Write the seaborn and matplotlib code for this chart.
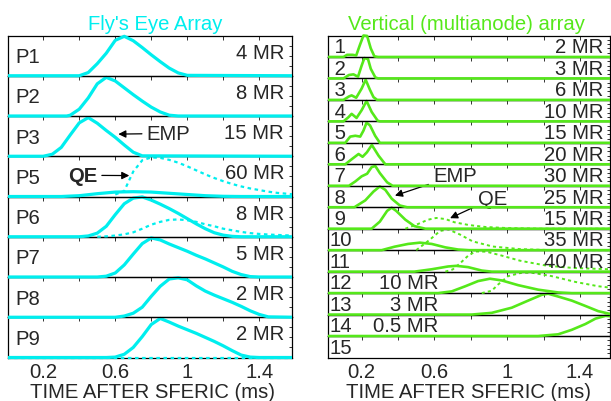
import matplotlib
matplotlib.use("Agg")
import matplotlib.pyplot as plt
import seaborn as sns
from matplotlib.patches import Rectangle

sns.set_style("white")
plt.rcParams["font.family"] = ["Liberation Sans", "DejaVu Sans"]

# ---------------- data: Fly's Eye array (left) ----------------
FE_NAMES = ["P1", "P2", "P3", "P5", "P6", "P7", "P8", "P9"]
FE_MR = ["4 MR", "8 MR", "15 MR", "60 MR", "8 MR", "5 MR", "2 MR", "2 MR"]

P1_X = [0, 0.40, 0.45, 0.50, 0.55, 0.60, 0.65, 0.70, 0.75, 0.80, 0.85, 0.90, 0.95, 1.00, 1.6]
P1_Y = [0, 0, 0.08, 0.30, 0.56, 0.88, 0.98, 0.87, 0.70, 0.52, 0.35, 0.19, 0.07, 0.01, 0]

P2_X = [0, 0.33, 0.35, 0.40, 0.45, 0.50, 0.55, 0.60, 0.65, 0.70, 0.75, 0.80, 0.85, 0.90, 0.95, 1.6]
P2_Y = [0, 0, 0.02, 0.17, 0.45, 0.80, 0.96, 0.87, 0.70, 0.53, 0.37, 0.22, 0.10, 0.02, 0, 0]

P3_X = [0, 0.20, 0.25, 0.30, 0.35, 0.40, 0.45, 0.50, 0.55, 0.60, 0.65, 0.70, 0.75, 1.6]
P3_Y = [0, 0, 0.05, 0.22, 0.53, 0.83, 0.96, 0.82, 0.64, 0.47, 0.28, 0.10, 0.01, 0]

P5_X = [0, 0.30, 0.40, 0.50, 0.60, 0.70, 0.80, 0.90, 1.00, 1.10, 1.20, 1.30, 1.6]
P5_Y = [0, 0, 0.02, 0.07, 0.11, 0.12, 0.11, 0.08, 0.05, 0.02, 0.005, 0, 0]
P5_QE_X = [0.60, 0.65, 0.70, 0.75, 0.80, 0.85, 0.90, 0.95, 1.00, 1.05, 1.10, 1.15, 1.20,
           1.25, 1.30, 1.35, 1.40, 1.45, 1.50, 1.55, 1.60]
P5_QE_Y = [0.05, 0.14, 0.62, 0.90, 0.97, 0.96, 0.91, 0.84, 0.75, 0.65, 0.55, 0.46, 0.38,
           0.31, 0.25, 0.20, 0.16, 0.12, 0.09, 0.07, 0.05]

P6_X = [0, 0.40, 0.45, 0.50, 0.55, 0.60, 0.65, 0.70, 0.75, 0.80, 0.85, 0.90, 0.95, 1.00,
        1.05, 1.10, 1.15, 1.20, 1.25, 1.30, 1.6]
P6_Y = [0, 0, 0.02, 0.09, 0.26, 0.55, 0.82, 0.96, 0.99, 0.91, 0.81, 0.70, 0.58, 0.45,
        0.32, 0.20, 0.10, 0.04, 0.01, 0, 0]
P6_QE_X = [0.50, 0.55, 0.60, 0.65, 0.70, 0.75, 0.80, 0.85, 0.90, 0.95, 1.00, 1.05, 1.10,
           1.15, 1.20, 1.25, 1.30, 1.35, 1.40, 1.45, 1.50, 1.55, 1.60]
P6_QE_Y = [0, 0.01, 0.03, 0.06, 0.11, 0.20, 0.30, 0.37, 0.42, 0.43, 0.41, 0.37, 0.31,
           0.26, 0.20, 0.16, 0.12, 0.09, 0.07, 0.055, 0.045, 0.035, 0.03]

P7_X = [0, 0.50, 0.55, 0.60, 0.65, 0.70, 0.75, 0.80, 0.85, 0.90, 0.95, 1.00, 1.05, 1.10,
        1.15, 1.20, 1.25, 1.30, 1.35, 1.40, 1.6]
P7_Y = [0, 0, 0.02, 0.10, 0.30, 0.57, 0.83, 0.97, 0.92, 0.82, 0.73, 0.64, 0.54, 0.45,
        0.35, 0.25, 0.14, 0.06, 0.01, 0, 0]

P8_X = [0, 0.60, 0.65, 0.70, 0.75, 0.80, 0.85, 0.90, 0.95, 1.00, 1.05, 1.10, 1.15, 1.20,
        1.25, 1.30, 1.35, 1.40, 1.45, 1.6]
P8_Y = [0, 0, 0.03, 0.10, 0.25, 0.52, 0.77, 0.95, 0.98, 0.93, 0.78, 0.65, 0.55, 0.46,
        0.37, 0.27, 0.16, 0.07, 0.01, 0]

P9_X = [0, 0.55, 0.60, 0.65, 0.70, 0.75, 0.80, 0.85, 0.90, 0.95, 1.00, 1.05, 1.10, 1.15,
        1.20, 1.25, 1.30, 1.35, 1.40, 1.6]
P9_Y = [0, 0, 0.01, 0.08, 0.25, 0.52, 0.82, 0.97, 0.88, 0.78, 0.69, 0.60, 0.50, 0.40,
        0.29, 0.17, 0.06, 0.01, 0, 0]
P9_QE_X = [0, 1.6]
P9_QE_Y = [0, 0]

# ---------------- data: Vertical (multianode) array (right) ----------------
VA_NAMES = [" 1", " 2", " 3", " 4", " 5", " 6", " 7", " 8", " 9", "10", "11", "12", "13", "14", "15"]
VA_MR = ["2 MR", "3 MR", "6 MR", "10 MR", "15 MR", "20 MR", "30 MR", "25 MR", "15 MR",
         "35 MR", "40 MR", "10 MR", "3 MR", "0.5 MR", ""]

R1_X = [0, 0.10, 0.12, 0.15, 0.17, 0.19, 0.21, 0.23, 0.25, 0.27, 0.29, 1.6]
R1_Y = [0, 0, 0.10, 0.10, 0.07, 0.55, 1.00, 0.98, 0.40, 0.03, 0, 0]
R2_X = [0, 0.10, 0.13, 0.155, 0.18, 0.20, 0.215, 0.235, 0.25, 0.275, 0.29, 1.6]
R2_Y = [0, 0, 0.16, 0.19, 0.08, 0.60, 0.95, 0.90, 0.45, 0.05, 0, 0]
R3_X = [0, 0.10, 0.13, 0.145, 0.17, 0.20, 0.222, 0.245, 0.265, 0.285, 1.6]
R3_Y = [0, 0, 0.16, 0.21, 0.10, 0.53, 0.94, 0.48, 0.13, 0, 0]
R4_X = [0, 0.10, 0.127, 0.145, 0.172, 0.20, 0.227, 0.255, 0.288, 0.30, 1.6]
R4_Y = [0, 0, 0.19, 0.35, 0.16, 0.52, 0.95, 0.44, 0.03, 0, 0]
R5_X = [0, 0.11, 0.137, 0.165, 0.192, 0.21, 0.227, 0.246, 0.274, 0.30, 1.6]
R5_Y = [0, 0, 0.29, 0.33, 0.29, 0.57, 0.94, 0.81, 0.33, 0, 0]
R6_X = [0, 0.11, 0.146, 0.183, 0.205, 0.229, 0.256, 0.293, 0.33, 1.6]
R6_Y = [0, 0, 0.24, 0.48, 0.35, 0.56, 0.90, 0.40, 0, 0]
R7_X = [0, 0.13, 0.165, 0.20, 0.23, 0.255, 0.275, 0.30, 0.34, 0.37, 1.6]
R7_Y = [0, 0, 0.20, 0.44, 0.56, 0.87, 0.92, 0.59, 0.16, 0, 0]
R8_X = [0, 0.16, 0.22, 0.265, 0.30, 0.33, 0.365, 0.41, 0.45, 1.6]
R8_Y = [0, 0, 0.32, 0.73, 0.97, 0.81, 0.40, 0.08, 0, 0]
R9_X = [0, 0.255, 0.30, 0.34, 0.365, 0.39, 0.44, 0.49, 0.55, 1.6]
R9_Y = [0, 0, 0.33, 0.83, 0.98, 0.83, 0.42, 0.12, 0, 0]
R9_QE_X = [0.44, 0.51, 0.565, 0.61, 0.66, 0.71, 0.79, 0.88, 1.00, 1.19, 1.6]
R9_QE_Y = [0, 0.22, 0.42, 0.50, 0.45, 0.30, 0.17, 0.08, 0.03, 0, 0]
R10_X = [0, 0.31, 0.38, 0.455, 0.52, 0.585, 0.66, 0.73, 0.79, 1.6]
R10_Y = [0, 0, 0.16, 0.29, 0.35, 0.29, 0.13, 0.03, 0, 0]
R10_QE_X = [0.50, 0.575, 0.63, 0.675, 0.74, 0.81, 0.92, 1.07, 1.25, 1.6]
R10_QE_Y = [0, 0.49, 0.89, 0.97, 0.73, 0.41, 0.17, 0.05, 0, 0]
R11_X = [0, 0.49, 0.585, 0.675, 0.72, 0.785, 0.86, 0.915, 1.6]
R11_Y = [0, 0, 0.11, 0.24, 0.27, 0.21, 0.05, 0, 0]
R11_QE_X = [0.66, 0.70, 0.74, 0.785, 0.825, 0.885, 0.96, 1.07, 1.215, 1.365, 1.53, 1.6]
R11_QE_Y = [0, 0.10, 0.38, 0.74, 0.94, 0.93, 0.77, 0.51, 0.28, 0.17, 0.12, 0.10]
R12_X = [0, 0.62, 0.695, 0.77, 0.84, 0.905, 0.97, 1.06, 1.17, 1.28, 1.355, 1.6]
R12_Y = [0, 0, 0.08, 0.32, 0.56, 0.67, 0.59, 0.37, 0.16, 0.03, 0, 0]
R12_QE_X = [0.86, 0.915, 0.95, 1.005, 1.08, 1.135, 1.245, 1.375, 1.50, 1.6]
R12_QE_Y = [0, 0.11, 0.40, 0.79, 0.95, 0.95, 0.79, 0.52, 0.32, 0.22]
R13_X = [0, 0.805, 0.915, 1.025, 1.115, 1.19, 1.225, 1.28, 1.355, 1.43, 1.50, 1.565, 1.6]
R13_Y = [0, 0, 0.08, 0.32, 0.65, 0.92, 0.97, 0.84, 0.65, 0.40, 0.16, 0.03, 0]
R14_X = [0, 1.17, 1.28, 1.355, 1.43, 1.485, 1.54, 1.6]
R14_Y = [0, 0, 0.08, 0.29, 0.56, 0.81, 0.94, 0.90]

FE_SOLID = [(P1_X, P1_Y), (P2_X, P2_Y), (P3_X, P3_Y), (P5_X, P5_Y), (P6_X, P6_Y),
            (P7_X, P7_Y), (P8_X, P8_Y), (P9_X, P9_Y)]
FE_DOTTED = {3: (P5_QE_X, P5_QE_Y), 4: (P6_QE_X, P6_QE_Y), 7: (P9_QE_X, P9_QE_Y)}
VA_SOLID = [(R1_X, R1_Y), (R2_X, R2_Y), (R3_X, R3_Y), (R4_X, R4_Y), (R5_X, R5_Y),
            (R6_X, R6_Y), (R7_X, R7_Y), (R8_X, R8_Y), (R9_X, R9_Y), (R10_X, R10_Y),
            (R11_X, R11_Y), (R12_X, R12_Y), (R13_X, R13_Y), (R14_X, R14_Y), None]
VA_DOTTED = {8: (R9_QE_X, R9_QE_Y), 9: (R10_QE_X, R10_QE_Y), 10: (R11_QE_X, R11_QE_Y),
             11: (R12_QE_X, R12_QE_Y)}

TICKS = [0.2, 0.6, 1.0, 1.4]
TICK_LABELS = ["0.2", "0.6", "1", "1.4"]
MINOR = [0.4, 0.8, 1.2]
XLABEL = "TIME AFTER SFERIC (ms)"

CYAN = "#00EEEE"
GREEN = "#55E81A"
FS = 14.6

W, H = 611, 402
fig = plt.figure(figsize=(W / 100, H / 100), dpi=100)


def add_ax(x0, x1, ytop, ybot, z):
    ax = fig.add_axes([x0 / W, 1 - ybot / H, (x1 - x0) / W, (ybot - ytop) / H])
    ax.set_zorder(z)
    ax.patch.set_alpha(0)
    return ax


def draw(ax, xs, ys, color, lw, ls="-"):
    sns.lineplot(x=xs, y=ys, ax=ax, color=color, linewidth=lw, linestyle=ls,
                 estimator=None, sort=False)
    line = ax.lines[-1]
    line.set_zorder(3)
    line.set_clip_path(Rectangle((0, -1), 1, 3, transform=ax.transAxes))


def style_ax(ax, xlim, last, yt):
    ax.set_xlim(*xlim)
    ax.set_ylim(0, 1)
    ax.set_xticks(TICKS)
    ax.set_xticks(MINOR, minor=True)
    ax.set_yticks(yt)
    ax.tick_params(axis="both", which="both", direction="in", top=True, right=True,
                   length=3, width=0.7, color="#333333", labelleft=False,
                   labelbottom=last, labelsize=FS, pad=3)
    ax.tick_params(axis="y", length=2.2)
    if last:
        ax.set_xticklabels(TICK_LABELS)
    ax.set_xlabel("")
    ax.set_ylabel("")
    for s in ax.spines.values():
        s.set_linewidth(0.9)
        s.set_color("black")


# ---------------- left panel ----------------
LX0, LX1, TOP, BOT = 8, 292, 36.5, 358.5
nL = len(FE_NAMES)
hL = (BOT - TOP) / nL
left_axes = []
for i in range(nL):
    ax = add_ax(LX0, LX1, TOP + i * hL, TOP + (i + 1) * hL, 100 - i)
    xs, ys = FE_SOLID[i]
    draw(ax, xs, ys, CYAN, 2.3)
    if i in FE_DOTTED:
        dx, dy = FE_DOTTED[i]
        draw(ax, dx, dy, CYAN, 1.6, (0, (1.6, 1.6)))
    style_ax(ax, (0.004, 1.582), i == nL - 1, [0.25, 0.5, 0.75])
    ax.text(0.025, 0.34, FE_NAMES[i], transform=ax.transAxes, fontsize=FS,
            ha="left", va="baseline")
    ax.text(0.972, 0.45, FE_MR[i], transform=ax.transAxes, fontsize=FS,
            ha="right", va="baseline")
    left_axes.append(ax)

ARROW = dict(arrowstyle="-|>", color="black", lw=0.9, mutation_scale=11,
             shrinkA=1, shrinkB=0)
left_axes[2].annotate("EMP", xy=(0.617, 0.55), xytext=(0.774, 0.43),
                      ha="left", va="baseline", fontsize=FS, arrowprops=ARROW,
                      annotation_clip=False)
left_axes[3].annotate("QE", xy=(0.678, 0.52), xytext=(0.337, 0.39),
                      ha="left", va="baseline", fontsize=FS, fontweight="bold",
                      arrowprops=ARROW, annotation_clip=False)

fig.text(155 / W, 1 - 29.5 / H, "Fly's Eye Array", color=CYAN, fontsize=FS,
         ha="center", va="baseline")
fig.text(152 / W, 1 - 398 / H, XLABEL, fontsize=FS, ha="center", va="baseline")

# ---------------- right panel ----------------
RX0, RX1 = 328, 610
nR = len(VA_NAMES)
hR = (BOT - TOP) / nR
right_axes = []
for i in range(nR):
    ax = add_ax(RX0, RX1, TOP + i * hR, TOP + (i + 1) * hR, 100 - i)
    if VA_SOLID[i] is not None:
        xs, ys = VA_SOLID[i]
        draw(ax, xs, ys, GREEN, 1.9)
    if i in VA_DOTTED:
        dx, dy = VA_DOTTED[i]
        draw(ax, dx, dy, GREEN, 1.4, (0, (1.6, 1.6)))
    style_ax(ax, (0.015, 1.565), i == nR - 1, [0.2, 0.4, 0.6, 0.8])
    ax.text(0.004, 0.22, VA_NAMES[i], transform=ax.transAxes, fontsize=FS,
            ha="left", va="baseline")
    mx = 0.391 if i >= 11 else 0.976
    ax.text(mx, 0.22, VA_MR[i], transform=ax.transAxes, fontsize=FS,
            ha="right", va="baseline")
    right_axes.append(ax)

right_axes[7].annotate("EMP", xy=(0.383, 0.54), xytext=(0.592, 1.22),
                       ha="left", va="baseline", fontsize=FS, arrowprops=ARROW,
                       annotation_clip=False)
right_axes[8].annotate("QE", xy=(0.686, 0.49), xytext=(0.84, 1.155),
                       ha="left", va="baseline", fontsize=FS, arrowprops=ARROW,
                       annotation_clip=False)

fig.text(466 / W, 1 - 29.5 / H, "Vertical (multianode) array", color=GREEN,
         fontsize=FS, ha="center", va="baseline")
fig.text(469 / W, 1 - 398 / H, XLABEL, fontsize=FS, ha="center", va="baseline")

fig.savefig("out.png", dpi=100)
